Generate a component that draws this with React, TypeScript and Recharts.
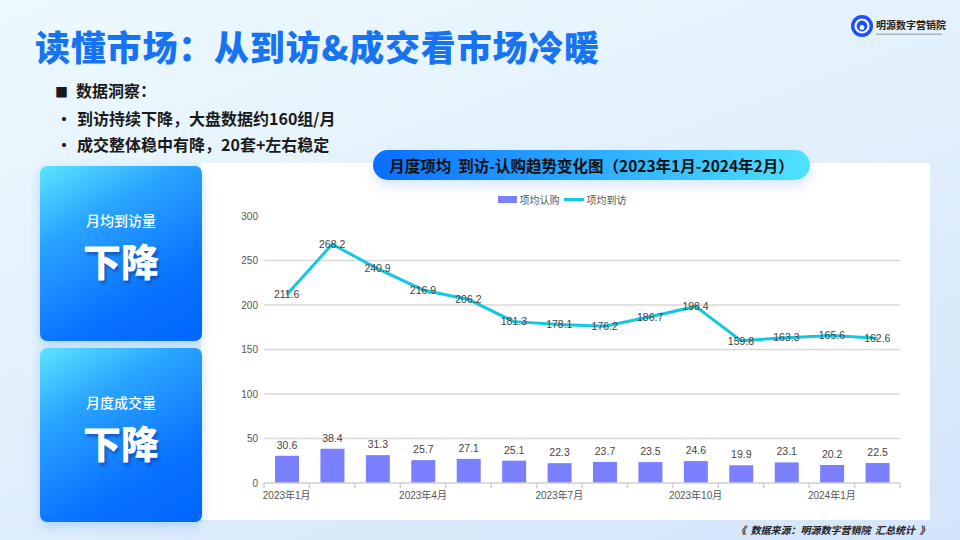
import { Bar, CartesianGrid, ComposedChart, LabelList, Legend, Line, XAxis, YAxis } from "recharts";

const MONTHS = [
    "2023年1月", "2023年2月", "2023年3月", "2023年4月", "2023年5月", "2023年6月", "2023年7月",
    "2023年8月", "2023年9月", "2023年10月", "2023年11月", "2023年12月", "2024年1月", "2024年2月",
];
const SUBSCRIBE = [30.6, 38.4, 31.3, 25.7, 27.1, 25.1, 22.3, 23.7, 23.5, 24.6, 19.9, 23.1, 20.2, 22.5];
const VISIT = [211.6, 268.2, 240.9, 216.9, 206.2, 181.3, 178.1, 176.2, 186.7, 198.4, 159.8, 163.3, 165.6, 162.6];
const Y_TICKS = [0, 50, 100, 150, 200, 250, 300];
const GRID_VALUES = [50, 100, 150, 200, 250];
const LABEL_EVERY = 3;

const BAR_COLOR = "#7b80ff";
const LINE_COLOR = "#14c8df";
const TEXT = "#555";
const FONT = "'Liberation Sans', 'Noto Sans CJK SC', sans-serif";
const CJK = "'Noto Sans CJK SC', sans-serif";

const CHART_W = 729;
const CHART_H = 357;
const MARGIN = { top: 38, right: 30, bottom: 7, left: 23 };
const Y_W = 40;
const HALF_BAND = (CHART_W - MARGIN.left - MARGIN.right - Y_W) / MONTHS.length / 2;

const data = MONTHS.map((m, i) => ({ month: m, subscribe: SUBSCRIBE[i], visit: VISIT[i] }));

// tick marks sit on the category boundaries, labels only every third month
const MonthTick = (props: any) => {
    const { x, y, index, payload } = props;
    const half = payload?.offset || HALF_BAND;
    return (
        <g>
            <line x1={x - half} x2={x - half} y1={y} y2={y + 5} stroke="#d0d0d0" strokeWidth={1.5} />
            {index === MONTHS.length - 1 && (
                <line x1={x + half} x2={x + half} y1={y} y2={y + 5} stroke="#d0d0d0" strokeWidth={1.5} />
            )}
            {index % LABEL_EVERY === 0 && (
                <text x={x} y={y + 16} textAnchor="middle" fill={TEXT} fontSize={10} fontFamily={FONT}>
                    {payload.value}
                </text>
            )}
        </g>
    );
};

const LegendContent = () => (
    <div
        style={{
            display: "flex",
            justifyContent: "center",
            alignItems: "center",
            gap: 4,
            fontSize: 10,
            color: TEXT,
            fontFamily: CJK,
        }}
    >
        <span style={{ display: "flex", alignItems: "center", gap: 3 }}>
            <span style={{ width: 19, height: 7, background: BAR_COLOR, display: "inline-block" }} />
            项均认购
        </span>
        <span style={{ display: "flex", alignItems: "center", gap: 3 }}>
            <span style={{ width: 20, height: 3, background: LINE_COLOR, display: "inline-block" }} />
            项均到访
        </span>
    </div>
);

const Card = ({ top, height, label }: { top: number; height: number; label: string }) => (
    <div
        style={{
            position: "absolute",
            left: 40,
            top,
            width: 162,
            height,
            borderRadius: 7,
            background: "linear-gradient(150deg, #5ce4ff 0%, #2aa4ff 30%, #0a72ff 70%, #0066ff 100%)",
            boxShadow: "0 4px 12px rgba(40,130,255,0.25)",
            color: "#fff",
            textAlign: "center",
            fontFamily: CJK,
        }}
    >
        <div style={{ position: "absolute", top: 46, width: "100%", fontSize: 14, lineHeight: "16px", fontWeight: 500 }}>
            {label}
        </div>
        <div
            style={{
                position: "absolute",
                top: 74,
                width: "100%",
                fontSize: 38,
                lineHeight: "40px",
                fontWeight: 900,
                textShadow: "2px 3px 3px rgba(0,40,120,0.45)",
            }}
        >
            下降
        </div>
    </div>
);

const App = () => {
    return (
        <div
            style={{
                position: "absolute",
                left: 0,
                top: 0,
                width: 960,
                height: 540,
                overflow: "hidden",
                background: "linear-gradient(160deg, #ecf9fe 0%, #e3f1fc 45%, #d4e4fa 100%)",
                fontFamily: CJK,
            }}
        >
            {/* title */}
            <div
                style={{
                    position: "absolute",
                    left: 35,
                    top: 20,
                    fontSize: 35,
                    fontWeight: 900,
                    color: "#1773f2",
                    letterSpacing: 0.8,
                    whiteSpace: "nowrap",
                }}
            >
                读懂市场：从到访&amp;成交看市场冷暖
            </div>

            {/* logo */}
            <svg style={{ position: "absolute", left: 850, top: 14 }} width={108} height={26}>
                <circle cx={12} cy={12} r={11} fill="#1b4fff" />
                <circle cx={12} cy={12} r={6.5} fill="none" stroke="#fff" strokeWidth={2.2} />
                <circle cx={12} cy={13.5} r={2.4} fill="#fff" />
                <text x={26} y={15} fontSize={10} fontWeight={700} fill="#222" fontFamily={CJK}>
                    明源数字营销院
                </text>
                <rect x={26} y={19.5} width={66} height={1.5} fill="#888" opacity={0.6} />
            </svg>

            {/* insights */}
            <div
                style={{
                    position: "absolute",
                    left: 55,
                    top: 77,
                    fontSize: 16,
                    fontWeight: 600,
                    color: "#1a1a1a",
                    lineHeight: "26px",
                }}
            >
                <div>
                    <span style={{ fontSize: 13, marginRight: 8 }}>■</span>数据洞察：
                </div>
                <div>
                    <span style={{ display: "inline-block", width: 21, paddingLeft: 1 }}>•</span>到访持续下降，大盘数据约160组/月
                </div>
                <div>
                    <span style={{ display: "inline-block", width: 21, paddingLeft: 1 }}>•</span>成交整体稳中有降，20套+左右稳定
                </div>
            </div>

            {/* chart panel */}
            <div style={{ position: "absolute", left: 201, top: 163, width: CHART_W, height: CHART_H, background: "#fff" }}>
                <ComposedChart width={CHART_W} height={CHART_H} data={data} margin={MARGIN}>
                    <CartesianGrid vertical={false} horizontalValues={GRID_VALUES} stroke="#d9d9d9" strokeWidth={1.3} />
                    <Legend verticalAlign="top" align="center" content={<LegendContent />} wrapperStyle={{ top: 29 }} />
                    <XAxis
                        dataKey="month"
                        interval={0}
                        tickLine={false}
                        tickSize={0}
                        tickMargin={0}
                        height={30}
                        axisLine={{ stroke: "#d0d0d0", strokeWidth: 1.5 }}
                        tick={<MonthTick />}
                    />
                    <YAxis
                        domain={[0, 300]}
                        ticks={Y_TICKS}
                        width={Y_W}
                        axisLine={false}
                        tickLine={false}
                        tickSize={0}
                        tickMargin={6}
                        tick={{ fill: TEXT, fontSize: 10, fontFamily: FONT }}
                    />
                    <Bar dataKey="subscribe" name="项均认购" fill={BAR_COLOR} barSize={24} isAnimationActive={false}>
                        <LabelList dataKey="subscribe" position="top" offset={7} fill="#444" fontSize={10.5} fontFamily={FONT} />
                    </Bar>
                    <Line
                        dataKey="visit"
                        name="项均到访"
                        type="linear"
                        stroke={LINE_COLOR}
                        strokeWidth={3}
                        dot={false}
                        activeDot={false}
                        isAnimationActive={false}
                    >
                        <LabelList dataKey="visit" position="center" fill="#444" fontSize={10.5} fontFamily={FONT} />
                    </Line>
                </ComposedChart>
            </div>

            {/* chart title pill */}
            <div
                style={{
                    position: "absolute",
                    left: 373,
                    top: 150,
                    width: 437,
                    height: 30,
                    borderRadius: 15,
                    background: "linear-gradient(90deg, #0a6dff 0%, #2aa6ff 45%, #4fe2ff 100%)",
                    boxShadow: "0 6px 12px rgba(40,120,255,0.18)",
                    display: "flex",
                    alignItems: "center",
                    justifyContent: "center",
                    fontSize: 15.5,
                    fontWeight: 600,
                    color: "#111",
                    whiteSpace: "nowrap",
                }}
            >
                月度项均&nbsp;&nbsp;到访-认购趋势变化图（2023年1月-2024年2月）
            </div>

            <Card top={166} height={175} label="月均到访量" />
            <Card top={348} height={174} label="月度成交量" />

            {/* source */}
            <div
                style={{
                    position: "absolute",
                    left: 736,
                    top: 522,
                    fontSize: 10,
                    fontStyle: "italic",
                    fontWeight: 700,
                    color: "#222",
                    whiteSpace: "nowrap",
                }}
            >
                《&nbsp;&nbsp;数据来源：明源数字营销院&nbsp;&nbsp;汇总统计&nbsp;&nbsp;》
            </div>
        </div>
    );
};

export default App;
